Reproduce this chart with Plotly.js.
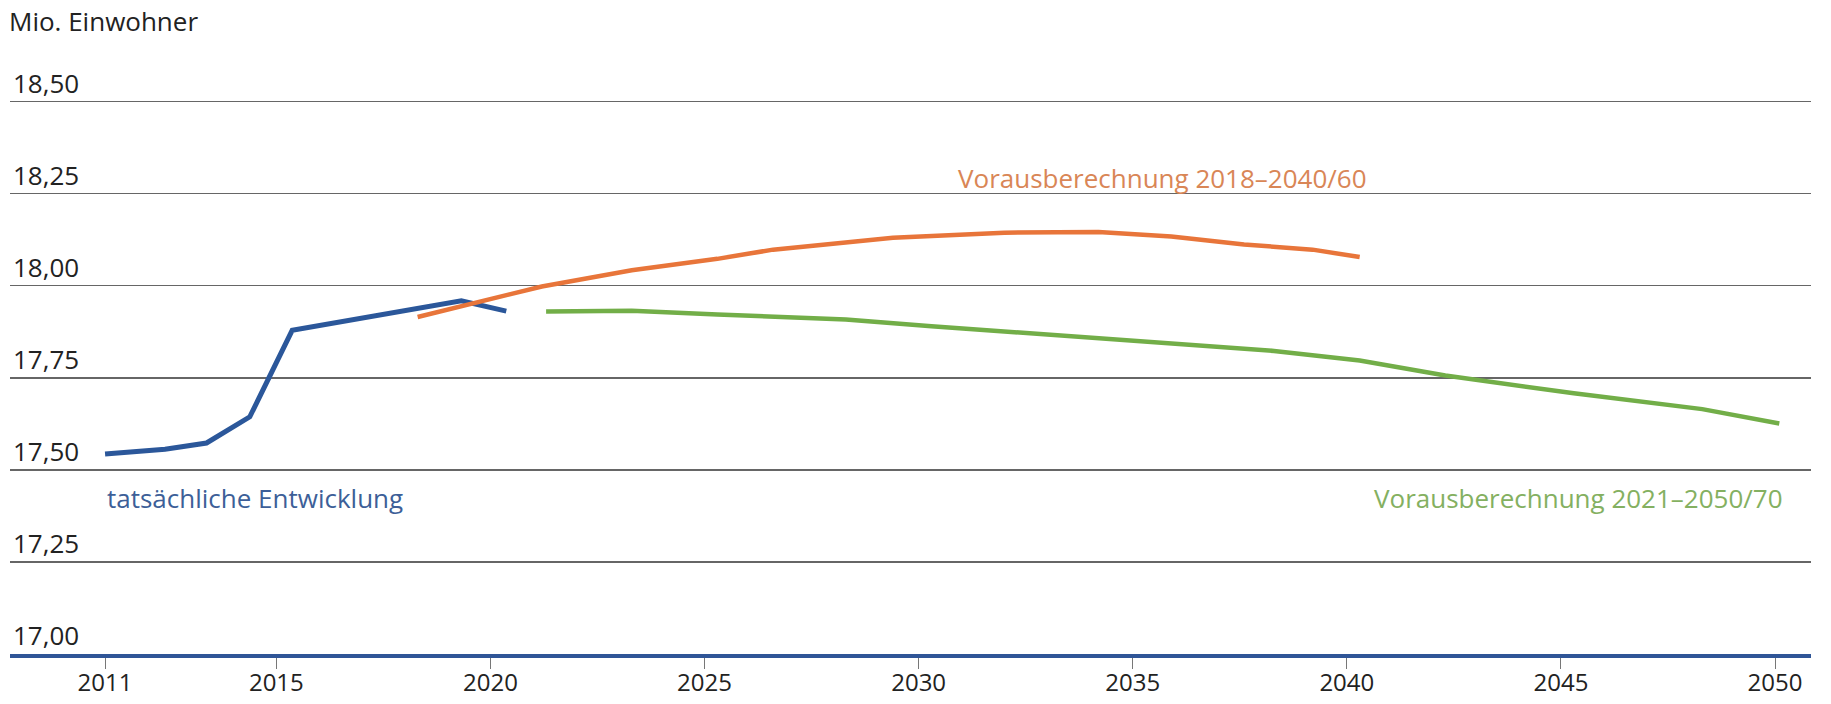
<!DOCTYPE html>
<html>
<head>
<meta charset="utf-8">
<script src="https://cdn.plot.ly/plotly-3.0.1.min.js"></script>
<style>html,body{margin:0;padding:0;background:#fff;}#chart{width:1831px;height:704px;}</style>
</head>
<body>
<div id="chart"></div>
<script>
// Data (years as fractional positions, values in Mio. Einwohner)
const actualYears = [2011.0, 2012.4, 2013.37, 2014.38, 2015.37, 2016.37, 2017.37, 2018.37, 2019.32, 2020.37];
const actualValues = [17.543, 17.556, 17.573, 17.644, 17.879, 17.899, 17.919, 17.939, 17.959, 17.931];

const proj2018Years = [2018.3, 2021.2, 2023.3, 2025.3, 2026.6, 2028.2, 2029.4, 2032.0, 2034.2, 2035.9, 2037.6, 2039.2, 2040.3];
const proj2018Values = [17.915, 17.998, 18.042, 18.073, 18.098, 18.116, 18.130, 18.144, 18.146, 18.134, 18.112, 18.098, 18.078];

const proj2021Years = [2021.3, 2023.3, 2025.3, 2028.3, 2030.3, 2034.3, 2036.3, 2038.3, 2040.3, 2042.3, 2045.3, 2048.3, 2050.1];
const proj2021Values = [17.930, 17.932, 17.922, 17.908, 17.890, 17.857, 17.840, 17.823, 17.797, 17.756, 17.708, 17.665, 17.626];

const seriesNames = ['tatsächliche Entwicklung', 'Vorausberechnung 2018–2040/60', 'Vorausberechnung 2021–2050/70'];

const xTickVals = [2011, 2015, 2020, 2025, 2030, 2035, 2040, 2045, 2050];
const xTickText = ['2011', '2015', '2020', '2025', '2030', '2035', '2040', '2045', '2050'];
const yTickVals = [17.00, 17.25, 17.50, 17.75, 18.00, 18.25, 18.50];
const yTickText = ['17,00', '17,25', '17,50', '17,75', '18,00', '18,25', '18,50'];

const FONT = '"Open Sans", "Noto Sans", sans-serif';

const traces = [
  {x: actualYears, y: actualValues, name: seriesNames[0], mode: 'lines',
   line: {color: '#2B579A', width: 5}},
  {x: proj2018Years, y: proj2018Values, name: seriesNames[1], mode: 'lines',
   line: {color: '#E8753A', width: 4.5}},
  {x: proj2021Years, y: proj2021Values, name: seriesNames[2], mode: 'lines',
   line: {color: '#72AE48', width: 4.5}}
];

// plot area: 17,00 at y=654 px, 18,50 at y≈101.6 px  → 368.27 px per Mio.
const plotTop = 50;
const yTop = 18.5 + (101.6 - plotTop) / 368.27;

const layout = {
  width: 1831, height: 704,
  margin: {l: 10, r: 20, t: plotTop, b: 50},
  paper_bgcolor: '#ffffff', plot_bgcolor: '#ffffff',
  showlegend: false,
  font: {family: FONT, size: 25, color: '#222222'},
  title: {text: 'Mio. Einwohner', xref: 'container', yref: 'container',
          x: 9/1831, xanchor: 'left', y: 1 - 22/704, yanchor: 'middle',
          font: {family: FONT, size: 26, color: '#222222'}},
  xaxis: {
    range: [2008.78, 2050.84],
    tickvals: xTickVals, ticktext: xTickText,
    showgrid: false, zeroline: false,
    showline: true, linecolor: '#2F5597', linewidth: 4,
    ticks: 'outside', ticklen: 11, tickwidth: 1, tickcolor: '#777777',
    ticklabelstandoff: -7,
    tickfont: {family: FONT, size: 24, color: '#222222'},
    fixedrange: true
  },
  yaxis: {
    range: [17.0, yTop],
    tickvals: yTickVals, ticktext: yTickText,
    ticklabelposition: 'inside top',
    showgrid: true, gridcolor: '#666666', gridwidth: 1.5,
    zeroline: false, showline: false, ticks: '',
    tickfont: {family: FONT, size: 26, color: '#222222'},
    fixedrange: true
  },
  annotations: [
    {x: actualYears[0], y: 17.424, xref: 'x', yref: 'y', text: seriesNames[0],
     xanchor: 'left', yanchor: 'middle', showarrow: false,
     font: {family: FONT, size: 26, color: '#3D5F98'}},
    {x: proj2018Years[proj2018Years.length - 1], xshift: 9, y: 18.292, xref: 'x', yref: 'y', text: seriesNames[1],
     xanchor: 'right', yanchor: 'middle', showarrow: false,
     font: {family: FONT, size: 26, color: '#D98656'}},
    {x: proj2021Years[proj2021Years.length - 1], xshift: 6, y: 17.424, xref: 'x', yref: 'y', text: seriesNames[2],
     xanchor: 'right', yanchor: 'middle', showarrow: false,
     font: {family: FONT, size: 26, color: '#84B061'}}
  ]
};

Plotly.newPlot('chart', traces, layout, {displayModeBar: false, staticPlot: true});
</script>
</body>
</html>
